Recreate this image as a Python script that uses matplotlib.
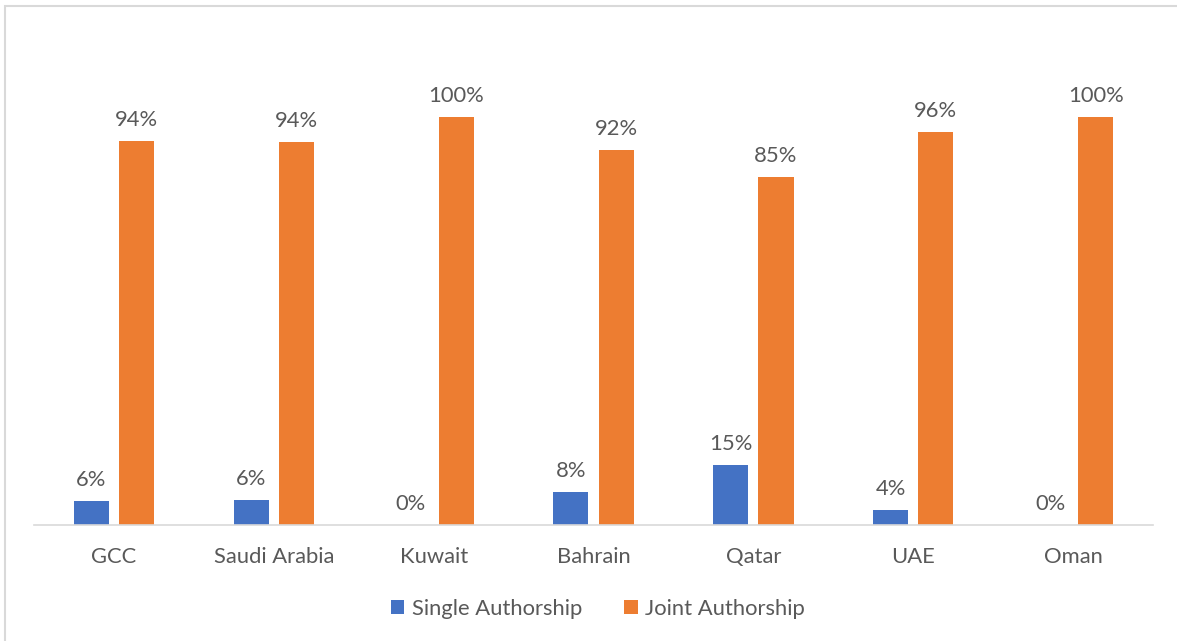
import matplotlib
matplotlib.use('Agg')
import matplotlib.pyplot as plt
import numpy as np

# data
countries = ['GCC', 'Saudi Arabia', 'Kuwait', 'Bahrain', 'Qatar', 'UAE', 'Oman']
single = [0.059, 0.061, 0.0, 0.081, 0.147, 0.037, 0.0]
joint = [0.941, 0.939, 1.0, 0.919, 0.853, 0.963, 1.0]

blue = '#4472C4'
orange = '#ED7D31'
txt = '#595959'
fs = 15.8

plt.rcParams['font.family'] = ['Lato', 'DejaVu Sans']

W, H = 1177, 641
fig = plt.figure(figsize=(W / 100, H / 100), dpi=100)

# axes placed in pixel terms: baseline at y=525, 100% at y=117
left, right = 34, 1153
top, base = 10, 525
ax = fig.add_axes([left / W, (H - base) / H, (right - left) / W, (base - top) / H])
ax.set_xlim(-0.5, len(countries) - 0.5)
ax.set_ylim(0, (base - top) / 408)

x = np.arange(len(countries))
bw = 0.22
off = 0.142
b1 = ax.bar(x - off, single, bw, color=blue, label='Single Authorship')
b2 = ax.bar(x + off, joint, bw, color=orange, label='Joint Authorship')

for bars, vals in [(b1, single), (b2, joint)]:
    for r, v in zip(bars, vals):
        ax.annotate('{0:.0%}'.format(round(v, 2)), (r.get_x() + r.get_width() / 2, v),
                    xytext=(0, 8), textcoords='offset points', ha='center', va='bottom',
                    fontsize=fs, color=txt)

for s in ['top', 'right', 'left']:
    ax.spines[s].set_visible(False)
ax.spines['bottom'].set_color('#d9d9d9')
ax.spines['bottom'].set_linewidth(1.2)
ax.set_yticks([])
ax.set_xticks(x)
ax.set_xticklabels(countries, fontsize=fs, color=txt)
ax.tick_params(axis='x', length=0, pad=16)

fig.legend(loc='center', bbox_to_anchor=(598 / W, (H - 609) / H), ncol=2, frameon=False,
           fontsize=fs, labelcolor=txt, handlelength=0.62, handleheight=0.62,
           handletextpad=0.35, columnspacing=1.9)

# light outer border of the chart area
fig.patches.append(plt.Rectangle((5 / W, -0.01), 1.0, 1 - 6 / H + 0.01, transform=fig.transFigure,
                                 fill=False, edgecolor='#d9d9d9', linewidth=1.5))

plt.savefig('out.png', dpi=100)
